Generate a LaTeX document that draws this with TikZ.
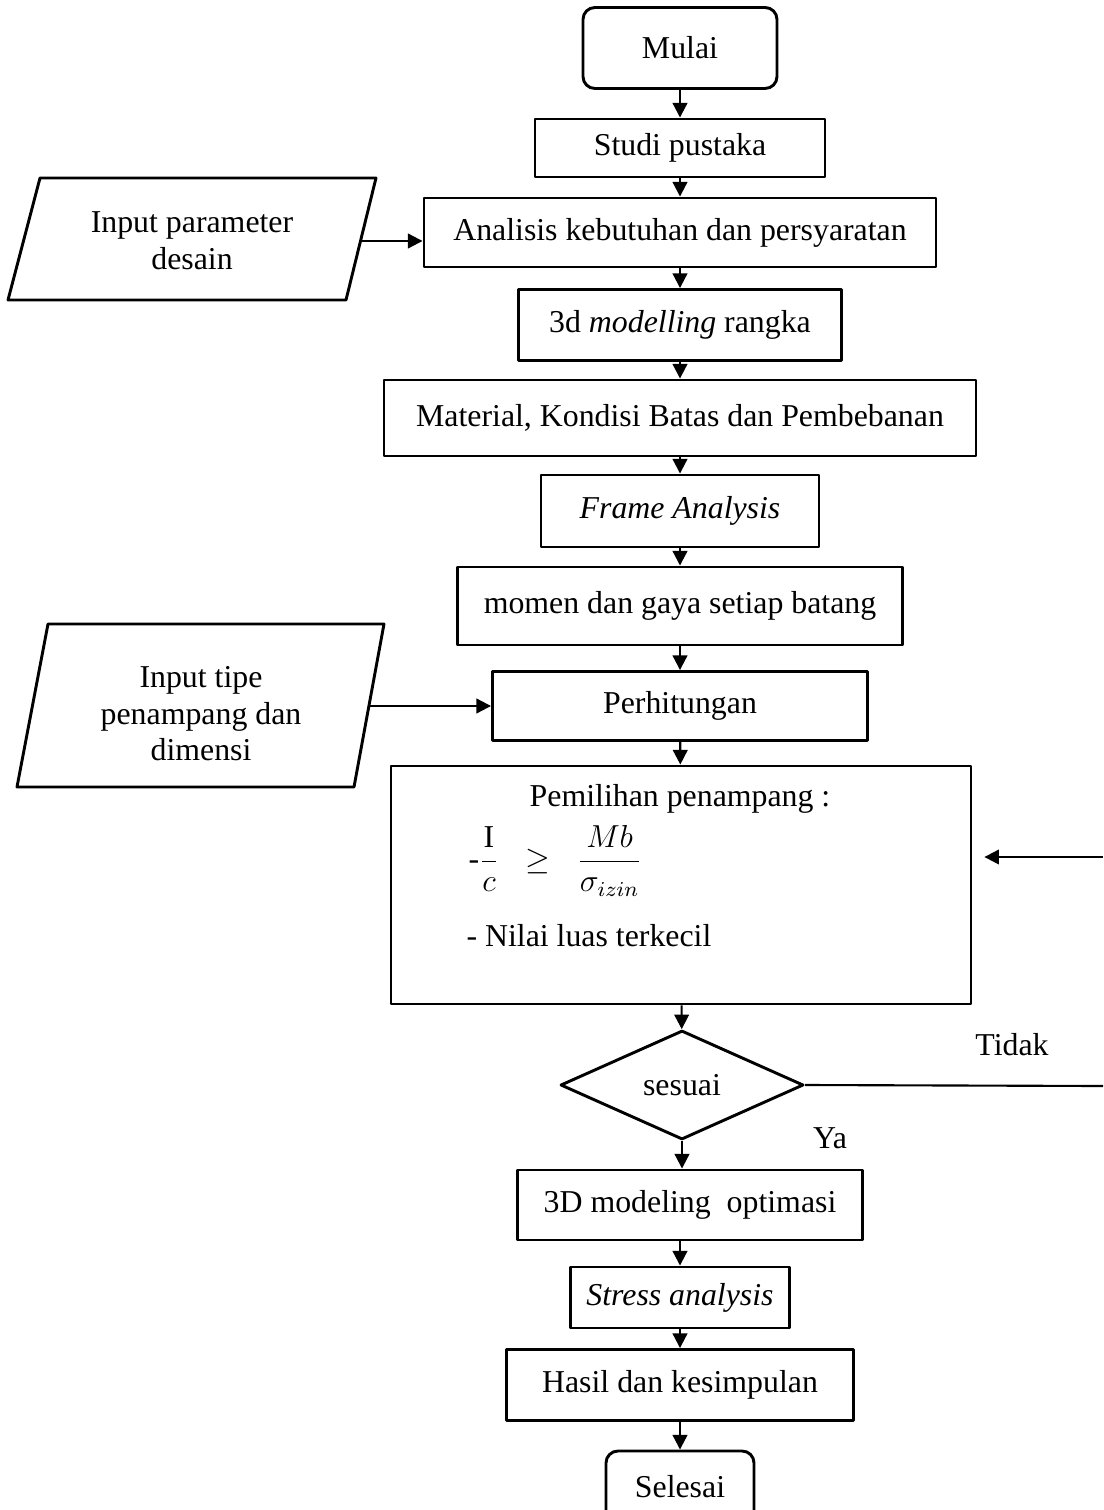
\documentclass[tikz,border=0pt]{standalone}
\usepackage{fontspec}
\usepackage{amsmath}
\setmainfont{Liberation Serif}
\usetikzlibrary{shapes.geometric,arrows.meta}
\newcommand{\satuan}{0.377pt}

\tikzset{
  huruf/.style={font=\fontsize{12}{13.8}\selectfont},
  ukuran/.style 2 args={minimum width=#1*\satuan, minimum height=#2*\satuan},
  kotak/.style={draw, line width=1.1pt, inner sep=0pt, huruf},
  mulaiselesai/.style={kotak, rounded corners=4.5pt},
  keputusan/.style={draw, diamond, line width=1.1pt, inner sep=0pt, huruf},
  teks/.style={huruf, align=center, inner sep=0pt},
  panah/.style={line width=0.8pt, -{Triangle[length=5.5pt,width=5.5pt]}},
  garis/.style={line width=0.8pt}
}

\begin{document}
\begin{tikzpicture}[x=\satuan,y=-\satuan,line join=round]
			\useasboundingbox (0,0) rectangle (1103,1510);
			\clip (0,0) rectangle (1103,1510);
			% Awal
			\node[mulaiselesai, ukuran={194}{81}] (mulai) at (680,48) {Mulai};
			\node[kotak, ukuran={290}{58}] (studi) at (680,148) {Studi pustaka};
			\node[kotak, ukuran={512}{69}] (analisis) at (680,232.5) {Analisis kebutuhan dan persyaratan};
			% Masukan 1
			\draw[line width=1.1pt] (40,178)--(376,178)--(346,300)--(8,300)--cycle;
			\node[teks] (input1) at (192,241) {Input parameter\\desain};
			\coordinate (in1e) at (362,241);
			% Pemodelan
			\node[kotak, ukuran={323}{71}] (model) at (680,325) {3d \textit{modelling} rangka};
			\node[kotak, ukuran={592}{76}] (material) at (680,418) {Material, Kondisi Batas dan Pembebanan};
			\node[kotak, ukuran={278}{72}] (frame) at (680,511) {\textit{Frame Analysis}};
			\node[kotak, ukuran={445}{78}] (gaya) at (680,606) {momen dan gaya setiap batang};
			\node[kotak, ukuran={375}{69}] (hitung) at (680,706) {Perhitungan};
			% Masukan 2
			\draw[line width=1.1pt] (48,624)--(384,624)--(354,787)--(17,787)--cycle;
			\node[teks] (input2) at (201,714) {Input tipe\\penampang dan\\dimensi};
			\coordinate (in2e) at (370,706);
			% Pemilihan
			\node[kotak, ukuran={580}{238}] (pilih) at (681,885) {};
			\node[teks] (judulpilih) at (680,799) {Pemilihan penampang :};
			\node[teks, anchor=west] (rumus) at (468,861) {-$\dfrac{\mathrm{I}}{c}\;\;\geq\;\;\dfrac{Mb}{\sigma_{izin}}$};
			\node[teks, anchor=west] (luas) at (466,936) {- Nilai luas terkecil};
			% Keputusan
			\node[keputusan, ukuran={243}{109}] (sesuai) at (682,1085) {sesuai};
			\node[teks] (tidak) at (1012,1045) {Tidak};
			\node[teks] (ya) at (830,1138) {Ya};
			\coordinate (kananbawah) at (1103,1086);
			\coordinate (kananatas) at (1103,857);
			% Akhir
			\node[kotak, ukuran={345}{70}] (optim) at (690,1205) {3D modeling\ \ optimasi};
			\node[kotak, ukuran={219}{61}] (stress) at (680,1297.5) {\textit{Stress analysis}};
			\node[kotak, ukuran={347}{71}] (hasil) at (680,1385) {Hasil dan kesimpulan};
			\node[mulaiselesai, ukuran={148}{72}] (selesai) at (680,1487) {Selesai};
			% Panah
			\draw[panah] (mulai)--(studi);
			\draw[panah] (studi)--(analisis);
			\draw[panah] (analisis)--(model);
			\draw[panah] (model)--(material);
			\draw[panah] (material)--(frame);
			\draw[panah] (frame)--(gaya);
			\draw[panah] (gaya)--(hitung);
			\draw[panah] (hitung)--(pilih);
			\draw[panah] (pilih)--(sesuai);
			\draw[panah] (sesuai.south)--(sesuai.south |- optim.north);
			\draw[panah] (stress.north |- optim.south)--(stress.north);
			\draw[panah] (stress)--(hasil);
			\draw[panah] (hasil)--(selesai);
			\draw[panah] (in1e)--(in1e -| analisis.west);
			\draw[panah] (in2e)--(in2e -| hitung.west);
			% Kembali
			\draw[garis] (sesuai.east)--(kananbawah);
			\draw[panah, shorten >=4.5pt] (kananatas)--(kananatas -| pilih.east);
	\end{tikzpicture}
\end{document}
